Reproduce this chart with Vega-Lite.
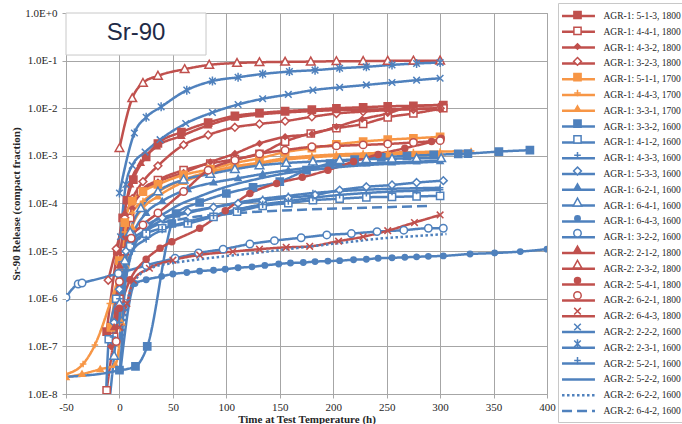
{
"$schema": "https://vega.github.io/schema/vega-lite/v6.json",
"width": 481, "height": 381,
"autosize": {"type": "none"},
"padding": {"left": 66, "top": 13, "right": 135, "bottom": 30},
"background": "white",
"config": {
  "view": {"stroke": "#a6a6a6", "strokeWidth": 1},
  "axis": {"gridColor": "#a6a6a6", "gridWidth": 1, "domainColor": "#a6a6a6", "tickColor": "#a6a6a6", "tickSize": 4, "labelFont": "Liberation Serif", "labelFontSize": 11, "labelColor": "#262626", "titleFont": "Liberation Serif", "titleFontSize": 11, "titleFontWeight": "bold", "titleColor": "#262626", "labelOverlap": false}
},
"datasets": {
"release": [
{"series":"AGR-1: 5-1-3, 1800","h":-12,"v":2.04e-7},{"series":"AGR-1: 5-1-3, 1800","h":-2,"v":1.0e-5},{"series":"AGR-1: 5-1-3, 1800","h":3,"v":5.01e-5},{"series":"AGR-1: 5-1-3, 1800","h":7,"v":1.17e-4},{"series":"AGR-1: 5-1-3, 1800","h":13,"v":3.16e-4},{"series":"AGR-1: 5-1-3, 1800","h":25,"v":9.55e-4},{"series":"AGR-1: 5-1-3, 1800","h":36,"v":1.82e-3},{"series":"AGR-1: 5-1-3, 1800","h":58,"v":3.16e-3},{"series":"AGR-1: 5-1-3, 1800","h":83,"v":5.01e-3},{"series":"AGR-1: 5-1-3, 1800","h":108,"v":6.92e-3},{"series":"AGR-1: 5-1-3, 1800","h":131,"v":7.94e-3},{"series":"AGR-1: 5-1-3, 1800","h":155,"v":8.71e-3},{"series":"AGR-1: 5-1-3, 1800","h":180,"v":9.33e-3},{"series":"AGR-1: 5-1-3, 1800","h":203,"v":1.0e-2},{"series":"AGR-1: 5-1-3, 1800","h":228,"v":1.05e-2},{"series":"AGR-1: 5-1-3, 1800","h":251,"v":1.10e-2},{"series":"AGR-1: 5-1-3, 1800","h":275,"v":1.12e-2},{"series":"AGR-1: 5-1-3, 1800","h":303,"v":1.17e-2},
{"series":"AGR-1: 4-4-1, 1800","h":-12,"v":1.2e-8},{"series":"AGR-1: 4-4-1, 1800","h":-5,"v":1.58e-7},{"series":"AGR-1: 4-4-1, 1800","h":0,"v":1.0e-6},{"series":"AGR-1: 4-4-1, 1800","h":5,"v":1.0e-5},{"series":"AGR-1: 4-4-1, 1800","h":10,"v":5.01e-5},{"series":"AGR-1: 4-4-1, 1800","h":20,"v":1.78e-4},{"series":"AGR-1: 4-4-1, 1800","h":36,"v":3.09e-4},{"series":"AGR-1: 4-4-1, 1800","h":60,"v":5.01e-4},{"series":"AGR-1: 4-4-1, 1800","h":85,"v":6.92e-4},{"series":"AGR-1: 4-4-1, 1800","h":108,"v":8.51e-4},{"series":"AGR-1: 4-4-1, 1800","h":131,"v":1.10e-3},{"series":"AGR-1: 4-4-1, 1800","h":155,"v":2.0e-3},{"series":"AGR-1: 4-4-1, 1800","h":179,"v":2.95e-3},{"series":"AGR-1: 4-4-1, 1800","h":203,"v":3.80e-3},{"series":"AGR-1: 4-4-1, 1800","h":228,"v":4.68e-3},{"series":"AGR-1: 4-4-1, 1800","h":251,"v":6.46e-3},{"series":"AGR-1: 4-4-1, 1800","h":275,"v":7.76e-3},{"series":"AGR-1: 4-4-1, 1800","h":303,"v":1.0e-2},
{"series":"AGR-1: 4-3-2, 1800","h":-8,"v":1.0e-7},{"series":"AGR-1: 4-3-2, 1800","h":0,"v":2.51e-6},{"series":"AGR-1: 4-3-2, 1800","h":5,"v":2.0e-5},{"series":"AGR-1: 4-3-2, 1800","h":12,"v":7.94e-5},{"series":"AGR-1: 4-3-2, 1800","h":22,"v":1.78e-4},{"series":"AGR-1: 4-3-2, 1800","h":36,"v":2.82e-4},{"series":"AGR-1: 4-3-2, 1800","h":60,"v":4.47e-4},{"series":"AGR-1: 4-3-2, 1800","h":85,"v":7.41e-4},{"series":"AGR-1: 4-3-2, 1800","h":108,"v":1.12e-3},{"series":"AGR-1: 4-3-2, 1800","h":131,"v":1.82e-3},{"series":"AGR-1: 4-3-2, 1800","h":155,"v":2.51e-3},{"series":"AGR-1: 4-3-2, 1800","h":180,"v":2.88e-3},{"series":"AGR-1: 4-3-2, 1800","h":203,"v":4.07e-3},{"series":"AGR-1: 4-3-2, 1800","h":227,"v":5.89e-3},{"series":"AGR-1: 4-3-2, 1800","h":251,"v":7.76e-3},{"series":"AGR-1: 4-3-2, 1800","h":275,"v":1.12e-2},{"series":"AGR-1: 4-3-2, 1800","h":300,"v":1.17e-2},
{"series":"AGR-1: 3-2-3, 1800","h":-10.5,"v":2.45e-6},{"series":"AGR-1: 3-2-3, 1800","h":-3,"v":1.12e-5},{"series":"AGR-1: 3-2-3, 1800","h":5,"v":5.01e-5},{"series":"AGR-1: 3-2-3, 1800","h":12,"v":1.26e-4},{"series":"AGR-1: 3-2-3, 1800","h":22,"v":2.88e-4},{"series":"AGR-1: 3-2-3, 1800","h":36,"v":6.17e-4},{"series":"AGR-1: 3-2-3, 1800","h":60,"v":1.70e-3},{"series":"AGR-1: 3-2-3, 1800","h":83,"v":2.75e-3},{"series":"AGR-1: 3-2-3, 1800","h":108,"v":3.98e-3},{"series":"AGR-1: 3-2-3, 1800","h":131,"v":4.68e-3},{"series":"AGR-1: 3-2-3, 1800","h":155,"v":5.37e-3},{"series":"AGR-1: 3-2-3, 1800","h":180,"v":6.61e-3},{"series":"AGR-1: 3-2-3, 1800","h":203,"v":7.76e-3},{"series":"AGR-1: 3-2-3, 1800","h":228,"v":8.51e-3},{"series":"AGR-1: 3-2-3, 1800","h":251,"v":9.12e-3},{"series":"AGR-1: 3-2-3, 1800","h":275,"v":9.55e-3},{"series":"AGR-1: 3-2-3, 1800","h":300,"v":1.0e-2},
{"series":"AGR-1: 5-1-1, 1700","h":-8,"v":2.51e-7},{"series":"AGR-1: 5-1-1, 1700","h":0,"v":6.31e-6},{"series":"AGR-1: 5-1-1, 1700","h":5,"v":3.98e-5},{"series":"AGR-1: 5-1-1, 1700","h":12,"v":1.12e-4},{"series":"AGR-1: 5-1-1, 1700","h":22,"v":1.78e-4},{"series":"AGR-1: 5-1-1, 1700","h":36,"v":2.51e-4},{"series":"AGR-1: 5-1-1, 1700","h":60,"v":3.98e-4},{"series":"AGR-1: 5-1-1, 1700","h":85,"v":5.25e-4},{"series":"AGR-1: 5-1-1, 1700","h":108,"v":7.08e-4},{"series":"AGR-1: 5-1-1, 1700","h":131,"v":8.91e-4},{"series":"AGR-1: 5-1-1, 1700","h":155,"v":1.20e-3},{"series":"AGR-1: 5-1-1, 1700","h":180,"v":1.45e-3},{"series":"AGR-1: 5-1-1, 1700","h":203,"v":1.74e-3},{"series":"AGR-1: 5-1-1, 1700","h":228,"v":2.0e-3},{"series":"AGR-1: 5-1-1, 1700","h":251,"v":2.19e-3},{"series":"AGR-1: 5-1-1, 1700","h":275,"v":2.34e-3},{"series":"AGR-1: 5-1-1, 1700","h":300,"v":2.51e-3},
{"series":"AGR-1: 4-4-3, 1700","h":-50,"v":2.63e-8},{"series":"AGR-1: 4-4-3, 1700","h":-34,"v":4.27e-8},{"series":"AGR-1: 4-4-3, 1700","h":-23,"v":1.07e-7},{"series":"AGR-1: 4-4-3, 1700","h":-9,"v":7.94e-7},{"series":"AGR-1: 4-4-3, 1700","h":0,"v":3.98e-6},{"series":"AGR-1: 4-4-3, 1700","h":5,"v":2.51e-5},{"series":"AGR-1: 4-4-3, 1700","h":12,"v":6.31e-5},{"series":"AGR-1: 4-4-3, 1700","h":22,"v":1.12e-4},{"series":"AGR-1: 4-4-3, 1700","h":36,"v":1.78e-4},{"series":"AGR-1: 4-4-3, 1700","h":60,"v":3.16e-4},{"series":"AGR-1: 4-4-3, 1700","h":85,"v":4.68e-4},{"series":"AGR-1: 4-4-3, 1700","h":108,"v":6.03e-4},{"series":"AGR-1: 4-4-3, 1700","h":131,"v":7.24e-4},{"series":"AGR-1: 4-4-3, 1700","h":155,"v":8.91e-4},{"series":"AGR-1: 4-4-3, 1700","h":180,"v":1.0e-3},{"series":"AGR-1: 4-4-3, 1700","h":203,"v":1.07e-3},{"series":"AGR-1: 4-4-3, 1700","h":228,"v":1.12e-3},{"series":"AGR-1: 4-4-3, 1700","h":251,"v":1.17e-3},{"series":"AGR-1: 4-4-3, 1700","h":275,"v":1.20e-3},{"series":"AGR-1: 4-4-3, 1700","h":300,"v":1.23e-3},{"series":"AGR-1: 4-4-3, 1700","h":329,"v":1.26e-3},
{"series":"AGR-1: 3-3-1, 1700","h":-50,"v":2.24e-8},{"series":"AGR-1: 3-3-1, 1700","h":-35,"v":2.63e-8},{"series":"AGR-1: 3-3-1, 1700","h":-18,"v":3.31e-8},{"series":"AGR-1: 3-3-1, 1700","h":-4,"v":4.07e-8},{"series":"AGR-1: 3-3-1, 1700","h":2,"v":3.16e-7},{"series":"AGR-1: 3-3-1, 1700","h":6,"v":5.01e-6},{"series":"AGR-1: 3-3-1, 1700","h":12,"v":3.16e-5},{"series":"AGR-1: 3-3-1, 1700","h":22,"v":7.94e-5},{"series":"AGR-1: 3-3-1, 1700","h":36,"v":1.41e-4},{"series":"AGR-1: 3-3-1, 1700","h":60,"v":2.82e-4},{"series":"AGR-1: 3-3-1, 1700","h":85,"v":4.47e-4},{"series":"AGR-1: 3-3-1, 1700","h":108,"v":5.75e-4},{"series":"AGR-1: 3-3-1, 1700","h":131,"v":6.92e-4},{"series":"AGR-1: 3-3-1, 1700","h":155,"v":8.32e-4},{"series":"AGR-1: 3-3-1, 1700","h":180,"v":9.33e-4},{"series":"AGR-1: 3-3-1, 1700","h":203,"v":1.0e-3},{"series":"AGR-1: 3-3-1, 1700","h":228,"v":1.05e-3},{"series":"AGR-1: 3-3-1, 1700","h":251,"v":1.07e-3},{"series":"AGR-1: 3-3-1, 1700","h":275,"v":1.10e-3},{"series":"AGR-1: 3-3-1, 1700","h":300,"v":1.12e-3},
{"series":"AGR-1: 3-3-2, 1600","h":0,"v":3.16e-8},{"series":"AGR-1: 3-3-2, 1600","h":15,"v":3.80e-8},{"series":"AGR-1: 3-3-2, 1600","h":26,"v":1.0e-7},{"series":"AGR-1: 3-3-2, 1600","h":49,"v":3.80e-5},{"series":"AGR-1: 3-3-2, 1600","h":53,"v":6.17e-5},{"series":"AGR-1: 3-3-2, 1600","h":75,"v":1.05e-4},{"series":"AGR-1: 3-3-2, 1600","h":100,"v":1.62e-4},{"series":"AGR-1: 3-3-2, 1600","h":125,"v":2.19e-4},{"series":"AGR-1: 3-3-2, 1600","h":150,"v":2.88e-4},{"series":"AGR-1: 3-3-2, 1600","h":175,"v":5.01e-4},{"series":"AGR-1: 3-3-2, 1600","h":197,"v":6.92e-4},{"series":"AGR-1: 3-3-2, 1600","h":220,"v":8.32e-4},{"series":"AGR-1: 3-3-2, 1600","h":245,"v":9.33e-4},{"series":"AGR-1: 3-3-2, 1600","h":269,"v":1.0e-3},{"series":"AGR-1: 3-3-2, 1600","h":294,"v":1.05e-3},{"series":"AGR-1: 3-3-2, 1600","h":317,"v":1.10e-3},{"series":"AGR-1: 3-3-2, 1600","h":326,"v":1.12e-3},{"series":"AGR-1: 3-3-2, 1600","h":355,"v":1.23e-3},{"series":"AGR-1: 3-3-2, 1600","h":384,"v":1.32e-3},
{"series":"AGR-1: 4-1-2, 1600","h":-13,"v":5.01e-9},{"series":"AGR-1: 4-1-2, 1600","h":-10,"v":1.41e-7},{"series":"AGR-1: 4-1-2, 1600","h":-3,"v":1.0e-6},{"series":"AGR-1: 4-1-2, 1600","h":3,"v":5.01e-6},{"series":"AGR-1: 4-1-2, 1600","h":10,"v":1.26e-5},{"series":"AGR-1: 4-1-2, 1600","h":25,"v":2.34e-5},{"series":"AGR-1: 4-1-2, 1600","h":40,"v":3.02e-5},{"series":"AGR-1: 4-1-2, 1600","h":64,"v":3.80e-5},{"series":"AGR-1: 4-1-2, 1600","h":88,"v":5.25e-5},{"series":"AGR-1: 4-1-2, 1600","h":110,"v":6.76e-5},{"series":"AGR-1: 4-1-2, 1600","h":134,"v":8.91e-5},{"series":"AGR-1: 4-1-2, 1600","h":158,"v":1.02e-4},{"series":"AGR-1: 4-1-2, 1600","h":181,"v":1.17e-4},{"series":"AGR-1: 4-1-2, 1600","h":206,"v":1.26e-4},{"series":"AGR-1: 4-1-2, 1600","h":231,"v":1.35e-4},{"series":"AGR-1: 4-1-2, 1600","h":255,"v":1.38e-4},{"series":"AGR-1: 4-1-2, 1600","h":278,"v":1.41e-4},{"series":"AGR-1: 4-1-2, 1600","h":300,"v":1.45e-4},
{"series":"AGR-1: 4-3-3, 1600","h":-6,"v":1.58e-7},{"series":"AGR-1: 4-3-3, 1600","h":0,"v":1.0e-6},{"series":"AGR-1: 4-3-3, 1600","h":5,"v":6.31e-6},{"series":"AGR-1: 4-3-3, 1600","h":12,"v":1.58e-5},{"series":"AGR-1: 4-3-3, 1600","h":25,"v":2.82e-5},{"series":"AGR-1: 4-3-3, 1600","h":40,"v":4.47e-5},{"series":"AGR-1: 4-3-3, 1600","h":64,"v":6.31e-5},{"series":"AGR-1: 4-3-3, 1600","h":88,"v":8.32e-5},{"series":"AGR-1: 4-3-3, 1600","h":111,"v":1.05e-4},{"series":"AGR-1: 4-3-3, 1600","h":134,"v":1.26e-4},{"series":"AGR-1: 4-3-3, 1600","h":158,"v":1.45e-4},{"series":"AGR-1: 4-3-3, 1600","h":181,"v":1.66e-4},{"series":"AGR-1: 4-3-3, 1600","h":206,"v":1.82e-4},{"series":"AGR-1: 4-3-3, 1600","h":231,"v":1.95e-4},{"series":"AGR-1: 4-3-3, 1600","h":255,"v":2.04e-4},{"series":"AGR-1: 4-3-3, 1600","h":278,"v":2.09e-4},{"series":"AGR-1: 4-3-3, 1600","h":300,"v":2.14e-4},
{"series":"AGR-1: 5-3-3, 1600","h":-5,"v":3.16e-7},{"series":"AGR-1: 5-3-3, 1600","h":0,"v":1.58e-6},{"series":"AGR-1: 5-3-3, 1600","h":6,"v":1.0e-5},{"series":"AGR-1: 5-3-3, 1600","h":12,"v":2.24e-5},{"series":"AGR-1: 5-3-3, 1600","h":25,"v":3.55e-5},{"series":"AGR-1: 5-3-3, 1600","h":40,"v":5.01e-5},{"series":"AGR-1: 5-3-3, 1600","h":64,"v":6.76e-5},{"series":"AGR-1: 5-3-3, 1600","h":88,"v":8.32e-5},{"series":"AGR-1: 5-3-3, 1600","h":111,"v":1.0e-4},{"series":"AGR-1: 5-3-3, 1600","h":134,"v":1.15e-4},{"series":"AGR-1: 5-3-3, 1600","h":158,"v":1.32e-4},{"series":"AGR-1: 5-3-3, 1600","h":183,"v":1.51e-4},{"series":"AGR-1: 5-3-3, 1600","h":206,"v":1.91e-4},{"series":"AGR-1: 5-3-3, 1600","h":231,"v":2.24e-4},{"series":"AGR-1: 5-3-3, 1600","h":255,"v":2.45e-4},{"series":"AGR-1: 5-3-3, 1600","h":278,"v":2.75e-4},{"series":"AGR-1: 5-3-3, 1600","h":303,"v":3.02e-4},
{"series":"AGR-1: 6-2-1, 1600","h":-4,"v":1.26e-7},{"series":"AGR-1: 6-2-1, 1600","h":0,"v":6.31e-7},{"series":"AGR-1: 6-2-1, 1600","h":5,"v":5.01e-6},{"series":"AGR-1: 6-2-1, 1600","h":12,"v":2.0e-5},{"series":"AGR-1: 6-2-1, 1600","h":25,"v":6.31e-5},{"series":"AGR-1: 6-2-1, 1600","h":40,"v":1.12e-4},{"series":"AGR-1: 6-2-1, 1600","h":64,"v":2.0e-4},{"series":"AGR-1: 6-2-1, 1600","h":88,"v":2.75e-4},{"series":"AGR-1: 6-2-1, 1600","h":111,"v":3.39e-4},{"series":"AGR-1: 6-2-1, 1600","h":134,"v":4.17e-4},{"series":"AGR-1: 6-2-1, 1600","h":158,"v":5.01e-4},{"series":"AGR-1: 6-2-1, 1600","h":181,"v":5.75e-4},{"series":"AGR-1: 6-2-1, 1600","h":206,"v":6.46e-4},{"series":"AGR-1: 6-2-1, 1600","h":231,"v":6.92e-4},{"series":"AGR-1: 6-2-1, 1600","h":255,"v":7.24e-4},{"series":"AGR-1: 6-2-1, 1600","h":278,"v":7.59e-4},{"series":"AGR-1: 6-2-1, 1600","h":300,"v":7.76e-4},
{"series":"AGR-1: 6-4-1, 1600","h":-10,"v":5.01e-9},{"series":"AGR-1: 6-4-1, 1600","h":-5,"v":6.31e-8},{"series":"AGR-1: 6-4-1, 1600","h":0,"v":7.94e-7},{"series":"AGR-1: 6-4-1, 1600","h":5,"v":6.31e-6},{"series":"AGR-1: 6-4-1, 1600","h":10,"v":2.51e-5},{"series":"AGR-1: 6-4-1, 1600","h":20,"v":7.94e-5},{"series":"AGR-1: 6-4-1, 1600","h":36,"v":1.78e-4},{"series":"AGR-1: 6-4-1, 1600","h":60,"v":3.16e-4},{"series":"AGR-1: 6-4-1, 1600","h":85,"v":4.17e-4},{"series":"AGR-1: 6-4-1, 1600","h":108,"v":5.25e-4},{"series":"AGR-1: 6-4-1, 1600","h":131,"v":6.31e-4},{"series":"AGR-1: 6-4-1, 1600","h":156,"v":7.08e-4},{"series":"AGR-1: 6-4-1, 1600","h":181,"v":7.59e-4},{"series":"AGR-1: 6-4-1, 1600","h":206,"v":8.13e-4},{"series":"AGR-1: 6-4-1, 1600","h":231,"v":8.51e-4},{"series":"AGR-1: 6-4-1, 1600","h":255,"v":8.71e-4},{"series":"AGR-1: 6-4-1, 1600","h":278,"v":8.91e-4},{"series":"AGR-1: 6-4-1, 1600","h":301,"v":8.91e-4},
{"series":"AGR-1: 6-4-3, 1600","h":1,"v":3.16e-8},{"series":"AGR-1: 6-4-3, 1600","h":14.5,"v":2.09e-6},{"series":"AGR-1: 6-4-3, 1600","h":25,"v":2.51e-6},{"series":"AGR-1: 6-4-3, 1600","h":39.5,"v":2.95e-6},{"series":"AGR-1: 6-4-3, 1600","h":50,"v":3.31e-6},{"series":"AGR-1: 6-4-3, 1600","h":63,"v":3.55e-6},{"series":"AGR-1: 6-4-3, 1600","h":75,"v":3.80e-6},{"series":"AGR-1: 6-4-3, 1600","h":88,"v":3.98e-6},{"series":"AGR-1: 6-4-3, 1600","h":99,"v":4.17e-6},{"series":"AGR-1: 6-4-3, 1600","h":111,"v":4.47e-6},{"series":"AGR-1: 6-4-3, 1600","h":124,"v":4.68e-6},{"series":"AGR-1: 6-4-3, 1600","h":136,"v":5.01e-6},{"series":"AGR-1: 6-4-3, 1600","h":149,"v":5.37e-6},{"series":"AGR-1: 6-4-3, 1600","h":160,"v":5.62e-6},{"series":"AGR-1: 6-4-3, 1600","h":172,"v":5.75e-6},{"series":"AGR-1: 6-4-3, 1600","h":183,"v":6.03e-6},{"series":"AGR-1: 6-4-3, 1600","h":195,"v":6.17e-6},{"series":"AGR-1: 6-4-3, 1600","h":206,"v":6.31e-6},{"series":"AGR-1: 6-4-3, 1600","h":219,"v":6.61e-6},{"series":"AGR-1: 6-4-3, 1600","h":231,"v":6.76e-6},{"series":"AGR-1: 6-4-3, 1600","h":242,"v":7.08e-6},{"series":"AGR-1: 6-4-3, 1600","h":255,"v":7.24e-6},{"series":"AGR-1: 6-4-3, 1600","h":267,"v":7.41e-6},{"series":"AGR-1: 6-4-3, 1600","h":278,"v":7.59e-6},{"series":"AGR-1: 6-4-3, 1600","h":289,"v":7.76e-6},{"series":"AGR-1: 6-4-3, 1600","h":303,"v":7.94e-6},{"series":"AGR-1: 6-4-3, 1600","h":328,"v":8.71e-6},{"series":"AGR-1: 6-4-3, 1600","h":351,"v":9.12e-6},{"series":"AGR-1: 6-4-3, 1600","h":375,"v":9.77e-6},{"series":"AGR-1: 6-4-3, 1600","h":400,"v":1.10e-5},
{"series":"AGR-1: 3-2-2, 1600","h":-50,"v":1.07e-6},{"series":"AGR-1: 3-2-2, 1600","h":-38.6,"v":2.04e-6},{"series":"AGR-1: 3-2-2, 1600","h":-35,"v":2.14e-6},{"series":"AGR-1: 3-2-2, 1600","h":-1,"v":3.39e-6},{"series":"AGR-1: 3-2-2, 1600","h":25,"v":5.01e-6},{"series":"AGR-1: 3-2-2, 1600","h":52,"v":7.08e-6},{"series":"AGR-1: 3-2-2, 1600","h":74,"v":9.12e-6},{"series":"AGR-1: 3-2-2, 1600","h":97,"v":1.10e-5},{"series":"AGR-1: 3-2-2, 1600","h":122,"v":1.41e-5},{"series":"AGR-1: 3-2-2, 1600","h":145,"v":1.66e-5},{"series":"AGR-1: 3-2-2, 1600","h":170,"v":1.91e-5},{"series":"AGR-1: 3-2-2, 1600","h":194,"v":2.19e-5},{"series":"AGR-1: 3-2-2, 1600","h":217,"v":2.34e-5},{"series":"AGR-1: 3-2-2, 1600","h":241,"v":2.57e-5},{"series":"AGR-1: 3-2-2, 1600","h":266,"v":2.75e-5},{"series":"AGR-1: 3-2-2, 1600","h":289,"v":3.02e-5},{"series":"AGR-1: 3-2-2, 1600","h":303,"v":3.02e-5},
{"series":"AGR-2: 2-1-2, 1800","h":-5,"v":2.51e-7},{"series":"AGR-2: 2-1-2, 1800","h":0,"v":5.01e-6},{"series":"AGR-2: 2-1-2, 1800","h":5,"v":6.31e-5},{"series":"AGR-2: 2-1-2, 1800","h":10,"v":2.51e-4},{"series":"AGR-2: 2-1-2, 1800","h":20,"v":7.08e-4},{"series":"AGR-2: 2-1-2, 1800","h":35,"v":1.58e-3},{"series":"AGR-2: 2-1-2, 1800","h":58,"v":2.63e-3},{"series":"AGR-2: 2-1-2, 1800","h":83,"v":4.37e-3},{"series":"AGR-2: 2-1-2, 1800","h":108,"v":6.31e-3},{"series":"AGR-2: 2-1-2, 1800","h":131,"v":7.41e-3},{"series":"AGR-2: 2-1-2, 1800","h":155,"v":8.13e-3},{"series":"AGR-2: 2-1-2, 1800","h":180,"v":8.71e-3},{"series":"AGR-2: 2-1-2, 1800","h":203,"v":9.12e-3},{"series":"AGR-2: 2-1-2, 1800","h":228,"v":9.33e-3},{"series":"AGR-2: 2-1-2, 1800","h":251,"v":9.55e-3},{"series":"AGR-2: 2-1-2, 1800","h":275,"v":9.77e-3},{"series":"AGR-2: 2-1-2, 1800","h":300,"v":1.0e-2},
{"series":"AGR-2: 2-3-2, 1800","h":0,"v":1.45e-3},{"series":"AGR-2: 2-3-2, 1800","h":12,"v":1.62e-2},{"series":"AGR-2: 2-3-2, 1800","h":22,"v":3.39e-2},{"series":"AGR-2: 2-3-2, 1800","h":36,"v":4.79e-2},{"series":"AGR-2: 2-3-2, 1800","h":61,"v":6.61e-2},{"series":"AGR-2: 2-3-2, 1800","h":84,"v":8.13e-2},{"series":"AGR-2: 2-3-2, 1800","h":110,"v":8.91e-2},{"series":"AGR-2: 2-3-2, 1800","h":131,"v":9.23e-2},{"series":"AGR-2: 2-3-2, 1800","h":155,"v":9.44e-2},{"series":"AGR-2: 2-3-2, 1800","h":179,"v":9.55e-2},{"series":"AGR-2: 2-3-2, 1800","h":203,"v":9.70e-2},{"series":"AGR-2: 2-3-2, 1800","h":228,"v":9.77e-2},{"series":"AGR-2: 2-3-2, 1800","h":251,"v":9.89e-2},{"series":"AGR-2: 2-3-2, 1800","h":275,"v":9.95e-2},{"series":"AGR-2: 2-3-2, 1800","h":300,"v":0.1},
{"series":"AGR-2: 5-4-1, 1800","h":0,"v":6.31e-7},{"series":"AGR-2: 5-4-1, 1800","h":10,"v":2.51e-6},{"series":"AGR-2: 5-4-1, 1800","h":25,"v":6.76e-6},{"series":"AGR-2: 5-4-1, 1800","h":38,"v":1.15e-5},{"series":"AGR-2: 5-4-1, 1800","h":49,"v":1.58e-5},{"series":"AGR-2: 5-4-1, 1800","h":75,"v":3.02e-5},{"series":"AGR-2: 5-4-1, 1800","h":99,"v":7.08e-5},{"series":"AGR-2: 5-4-1, 1800","h":122,"v":1.62e-4},{"series":"AGR-2: 5-4-1, 1800","h":147,"v":2.63e-4},{"series":"AGR-2: 5-4-1, 1800","h":171,"v":3.55e-4},{"series":"AGR-2: 5-4-1, 1800","h":195,"v":5.01e-4},{"series":"AGR-2: 5-4-1, 1800","h":219,"v":7.59e-4},{"series":"AGR-2: 5-4-1, 1800","h":242,"v":1.07e-3},{"series":"AGR-2: 5-4-1, 1800","h":267,"v":1.45e-3},{"series":"AGR-2: 5-4-1, 1800","h":292,"v":2.0e-3},{"series":"AGR-2: 5-4-1, 1800","h":301,"v":2.34e-3},
{"series":"AGR-2: 6-2-1, 1800","h":-3,"v":1.26e-7},{"series":"AGR-2: 6-2-1, 1800","h":0,"v":2.29e-6},{"series":"AGR-2: 6-2-1, 1800","h":11,"v":1.86e-5},{"series":"AGR-2: 6-2-1, 1800","h":22,"v":3.55e-5},{"series":"AGR-2: 6-2-1, 1800","h":36,"v":6.31e-5},{"series":"AGR-2: 6-2-1, 1800","h":60,"v":1.78e-4},{"series":"AGR-2: 6-2-1, 1800","h":83,"v":5.01e-4},{"series":"AGR-2: 6-2-1, 1800","h":108,"v":8.13e-4},{"series":"AGR-2: 6-2-1, 1800","h":131,"v":1.10e-3},{"series":"AGR-2: 6-2-1, 1800","h":155,"v":1.32e-3},{"series":"AGR-2: 6-2-1, 1800","h":180,"v":1.55e-3},{"series":"AGR-2: 6-2-1, 1800","h":203,"v":1.62e-3},{"series":"AGR-2: 6-2-1, 1800","h":228,"v":1.70e-3},{"series":"AGR-2: 6-2-1, 1800","h":251,"v":1.78e-3},{"series":"AGR-2: 6-2-1, 1800","h":275,"v":1.91e-3},{"series":"AGR-2: 6-2-1, 1800","h":300,"v":2.09e-3},
{"series":"AGR-2: 6-4-3, 1800","h":0,"v":2.51e-7},{"series":"AGR-2: 6-4-3, 1800","h":7,"v":7.94e-7},{"series":"AGR-2: 6-4-3, 1800","h":13,"v":2.45e-6},{"series":"AGR-2: 6-4-3, 1800","h":28,"v":4.37e-6},{"series":"AGR-2: 6-4-3, 1800","h":50,"v":6.46e-6},{"series":"AGR-2: 6-4-3, 1800","h":75,"v":8.32e-6},{"series":"AGR-2: 6-4-3, 1800","h":106,"v":9.77e-6},{"series":"AGR-2: 6-4-3, 1800","h":131,"v":1.10e-5},{"series":"AGR-2: 6-4-3, 1800","h":156,"v":1.20e-5},{"series":"AGR-2: 6-4-3, 1800","h":178,"v":1.26e-5},{"series":"AGR-2: 6-4-3, 1800","h":205,"v":1.62e-5},{"series":"AGR-2: 6-4-3, 1800","h":228,"v":2.0e-5},{"series":"AGR-2: 6-4-3, 1800","h":251,"v":2.69e-5},{"series":"AGR-2: 6-4-3, 1800","h":276,"v":3.98e-5},{"series":"AGR-2: 6-4-3, 1800","h":300,"v":5.75e-5},
{"series":"AGR-2: 2-2-2, 1600","h":1,"v":2.0e-5},{"series":"AGR-2: 2-2-2, 1600","h":6,"v":2.51e-4},{"series":"AGR-2: 2-2-2, 1600","h":12,"v":6.31e-4},{"series":"AGR-2: 2-2-2, 1600","h":24,"v":1.20e-3},{"series":"AGR-2: 2-2-2, 1600","h":38,"v":2.19e-3},{"series":"AGR-2: 2-2-2, 1600","h":62,"v":4.79e-3},{"series":"AGR-2: 2-2-2, 1600","h":87,"v":8.13e-3},{"series":"AGR-2: 2-2-2, 1600","h":111,"v":1.20e-2},{"series":"AGR-2: 2-2-2, 1600","h":134,"v":1.58e-2},{"series":"AGR-2: 2-2-2, 1600","h":158,"v":1.95e-2},{"series":"AGR-2: 2-2-2, 1600","h":181,"v":2.40e-2},{"series":"AGR-2: 2-2-2, 1600","h":206,"v":2.75e-2},{"series":"AGR-2: 2-2-2, 1600","h":231,"v":3.09e-2},{"series":"AGR-2: 2-2-2, 1600","h":255,"v":3.47e-2},{"series":"AGR-2: 2-2-2, 1600","h":278,"v":3.89e-2},{"series":"AGR-2: 2-2-2, 1600","h":300,"v":4.27e-2},
{"series":"AGR-2: 2-3-1, 1600","h":0,"v":1.66e-4},{"series":"AGR-2: 2-3-1, 1600","h":14,"v":3.02e-3},{"series":"AGR-2: 2-3-1, 1600","h":25,"v":6.46e-3},{"series":"AGR-2: 2-3-1, 1600","h":39,"v":1.07e-2},{"series":"AGR-2: 2-3-1, 1600","h":63,"v":2.40e-2},{"series":"AGR-2: 2-3-1, 1600","h":87,"v":3.72e-2},{"series":"AGR-2: 2-3-1, 1600","h":111,"v":4.47e-2},{"series":"AGR-2: 2-3-1, 1600","h":134,"v":5.25e-2},{"series":"AGR-2: 2-3-1, 1600","h":159,"v":5.89e-2},{"series":"AGR-2: 2-3-1, 1600","h":183,"v":6.31e-2},{"series":"AGR-2: 2-3-1, 1600","h":206,"v":6.92e-2},{"series":"AGR-2: 2-3-1, 1600","h":231,"v":7.41e-2},{"series":"AGR-2: 2-3-1, 1600","h":255,"v":8.13e-2},{"series":"AGR-2: 2-3-1, 1600","h":278,"v":8.71e-2},{"series":"AGR-2: 2-3-1, 1600","h":300,"v":9.12e-2},
{"series":"AGR-2: 5-2-1, 1600","h":0,"v":3.16e-7},{"series":"AGR-2: 5-2-1, 1600","h":6,"v":3.98e-6},{"series":"AGR-2: 5-2-1, 1600","h":12,"v":1.0e-5},{"series":"AGR-2: 5-2-1, 1600","h":25,"v":1.78e-5},{"series":"AGR-2: 5-2-1, 1600","h":40,"v":2.82e-5},{"series":"AGR-2: 5-2-1, 1600","h":64,"v":4.17e-5},{"series":"AGR-2: 5-2-1, 1600","h":88,"v":5.62e-5},{"series":"AGR-2: 5-2-1, 1600","h":111,"v":7.59e-5},{"series":"AGR-2: 5-2-1, 1600","h":134,"v":9.55e-5},{"series":"AGR-2: 5-2-1, 1600","h":158,"v":1.12e-4},{"series":"AGR-2: 5-2-1, 1600","h":181,"v":1.32e-4},{"series":"AGR-2: 5-2-1, 1600","h":206,"v":1.51e-4},{"series":"AGR-2: 5-2-1, 1600","h":231,"v":1.66e-4},{"series":"AGR-2: 5-2-1, 1600","h":255,"v":1.78e-4},{"series":"AGR-2: 5-2-1, 1600","h":278,"v":1.86e-4},{"series":"AGR-2: 5-2-1, 1600","h":300,"v":1.95e-4},
{"series":"AGR-2: 5-2-2, 1600","h":-50,"v":2.29e-8},{"series":"AGR-2: 5-2-2, 1600","h":0,"v":3.16e-8},{"series":"AGR-2: 5-2-2, 1600","h":5,"v":1.58e-6},{"series":"AGR-2: 5-2-2, 1600","h":12,"v":1.0e-5},{"series":"AGR-2: 5-2-2, 1600","h":25,"v":2.82e-5},{"series":"AGR-2: 5-2-2, 1600","h":50,"v":7.94e-5},{"series":"AGR-2: 5-2-2, 1600","h":75,"v":1.41e-4},{"series":"AGR-2: 5-2-2, 1600","h":100,"v":2.24e-4},{"series":"AGR-2: 5-2-2, 1600","h":130,"v":3.31e-4},{"series":"AGR-2: 5-2-2, 1600","h":160,"v":4.47e-4},{"series":"AGR-2: 5-2-2, 1600","h":190,"v":5.37e-4},{"series":"AGR-2: 5-2-2, 1600","h":220,"v":6.17e-4},{"series":"AGR-2: 5-2-2, 1600","h":250,"v":6.76e-4},{"series":"AGR-2: 5-2-2, 1600","h":280,"v":7.24e-4},{"series":"AGR-2: 5-2-2, 1600","h":300,"v":7.59e-4},
{"series":"AGR-2: 6-2-2, 1600","h":3,"v":1.0e-7},{"series":"AGR-2: 6-2-2, 1600","h":8,"v":1.0e-6},{"series":"AGR-2: 6-2-2, 1600","h":15,"v":2.51e-6},{"series":"AGR-2: 6-2-2, 1600","h":30,"v":4.47e-6},{"series":"AGR-2: 6-2-2, 1600","h":50,"v":5.62e-6},{"series":"AGR-2: 6-2-2, 1600","h":69,"v":6.46e-6},{"series":"AGR-2: 6-2-2, 1600","h":94,"v":7.59e-6},{"series":"AGR-2: 6-2-2, 1600","h":119,"v":8.71e-6},{"series":"AGR-2: 6-2-2, 1600","h":150,"v":1.05e-5},{"series":"AGR-2: 6-2-2, 1600","h":180,"v":1.26e-5},{"series":"AGR-2: 6-2-2, 1600","h":210,"v":1.51e-5},{"series":"AGR-2: 6-2-2, 1600","h":247,"v":1.86e-5},{"series":"AGR-2: 6-2-2, 1600","h":280,"v":2.09e-5},{"series":"AGR-2: 6-2-2, 1600","h":306,"v":2.29e-5},
{"series":"AGR-2: 6-4-2, 1600","h":0,"v":1.26e-7},{"series":"AGR-2: 6-4-2, 1600","h":6,"v":2.51e-6},{"series":"AGR-2: 6-4-2, 1600","h":12,"v":1.0e-5},{"series":"AGR-2: 6-4-2, 1600","h":20,"v":2.0e-5},{"series":"AGR-2: 6-4-2, 1600","h":35,"v":3.55e-5},{"series":"AGR-2: 6-4-2, 1600","h":60,"v":4.79e-5},{"series":"AGR-2: 6-4-2, 1600","h":100,"v":6.03e-5},{"series":"AGR-2: 6-4-2, 1600","h":160,"v":7.24e-5},{"series":"AGR-2: 6-4-2, 1600","h":230,"v":8.13e-5},{"series":"AGR-2: 6-4-2, 1600","h":290,"v":8.91e-5}
],
"note": [{"label": "Sr-90"}]
},
"layer": [
{
 "data": {"name": "note"},
 "mark": {"type": "rect", "fill": "white", "stroke": "#c8c8c8", "strokeWidth": 1},
 "encoding": {
  "x": {"datum": -50, "type": "quantitative", "scale": {"domain": [-50, 400], "nice": false, "zero": false},
        "axis": {"title": "Time at Test Temperature (h)", "values": [-50,0,50,100,150,200,250,300,350,400], "labelExpr": "'' + datum.value", "grid": true, "labelFlush": false, "labelPadding": 3, "titlePadding": 1}},
  "x2": {"datum": 81},
  "y": {"datum": 1, "type": "quantitative", "scale": {"type": "log", "domain": [1e-8, 1], "nice": false},
        "axis": {"title": "Sr-90 Release (compact fraction)", "values": [1e-8,1e-7,1e-6,1e-5,1e-4,1e-3,1e-2,1e-1,1], "labelExpr": "'1.0E' + (datum.value >= 0.5 ? '+0' : '-' + round(-log(datum.value)/LN10))", "grid": true, "labelFlush": false, "labelPadding": 5, "titlePadding": 3}},
  "y2": {"datum": 0.131}
 }
},
{
 "data": {"name": "note"},
 "mark": {"type": "text", "font": "Liberation Sans", "fontSize": 24, "color": "#1f2b47", "align": "center", "baseline": "middle"},
 "encoding": {
  "x": {"datum": 15.5, "type": "quantitative",
        "axis": {"title": "Time at Test Temperature (h)", "values": [-50,0,50,100,150,200,250,300,350,400], "labelExpr": "'' + datum.value", "grid": true, "labelFlush": false, "labelPadding": 3, "titlePadding": 1}},
  "y": {"datum": 0.38, "type": "quantitative",
        "axis": {"title": "Sr-90 Release (compact fraction)", "values": [1e-8,1e-7,1e-6,1e-5,1e-4,1e-3,1e-2,1e-1,1], "labelExpr": "'1.0E' + (datum.value >= 0.5 ? '+0' : '-' + round(-log(datum.value)/LN10))", "grid": true, "labelFlush": false, "labelPadding": 5, "titlePadding": 3}},
  "text": {"field": "label"}
 }
},
{
 "data": {"name": "release"},
 "mark": {"type": "line", "strokeWidth": 2.5, "interpolate": "monotone", "clip": true},
 "encoding": {
  "x": {"field": "h", "type": "quantitative", "scale": {"domain": [-50, 400], "nice": false, "zero": false},
        "axis": {"title": "Time at Test Temperature (h)", "values": [-50,0,50,100,150,200,250,300,350,400], "labelExpr": "'' + datum.value", "grid": true, "labelFlush": false, "labelPadding": 3, "titlePadding": 1}},
  "y": {"field": "v", "type": "quantitative", "scale": {"type": "log", "domain": [1e-8, 1], "nice": false},
        "axis": {"title": "Sr-90 Release (compact fraction)", "values": [1e-8,1e-7,1e-6,1e-5,1e-4,1e-3,1e-2,1e-1,1], "labelExpr": "'1.0E' + (datum.value >= 0.5 ? '+0' : '-' + round(-log(datum.value)/LN10))", "grid": true, "labelFlush": false, "labelPadding": 5, "titlePadding": 3}},
  "color": {"field": "series", "type": "nominal",
    "scale": {"domain": ["AGR-1: 5-1-3, 1800","AGR-1: 4-4-1, 1800","AGR-1: 4-3-2, 1800","AGR-1: 3-2-3, 1800","AGR-1: 5-1-1, 1700","AGR-1: 4-4-3, 1700","AGR-1: 3-3-1, 1700","AGR-1: 3-3-2, 1600","AGR-1: 4-1-2, 1600","AGR-1: 4-3-3, 1600","AGR-1: 5-3-3, 1600","AGR-1: 6-2-1, 1600","AGR-1: 6-4-1, 1600","AGR-1: 6-4-3, 1600","AGR-1: 3-2-2, 1600","AGR-2: 2-1-2, 1800","AGR-2: 2-3-2, 1800","AGR-2: 5-4-1, 1800","AGR-2: 6-2-1, 1800","AGR-2: 6-4-3, 1800","AGR-2: 2-2-2, 1600","AGR-2: 2-3-1, 1600","AGR-2: 5-2-1, 1600","AGR-2: 5-2-2, 1600","AGR-2: 6-2-2, 1600","AGR-2: 6-4-2, 1600"],
              "range": ["#c0504d","#c0504d","#c0504d","#c0504d","#f79646","#f79646","#f79646","#4f81bd","#4f81bd","#4f81bd","#4f81bd","#4f81bd","#4f81bd","#4f81bd","#4f81bd","#c0504d","#c0504d","#c0504d","#c0504d","#c0504d","#4f81bd","#4f81bd","#4f81bd","#4f81bd","#4f81bd","#4f81bd"]},
    "legend": {"orient": "none", "legendX": 492, "legendY": -10, "title": null, "direction": "vertical", "symbolType": "M-2.44,0H2.44", "symbolSize": 182.25, "symbolStrokeWidth": 2.5, "symbolLimit": 40, "labelFont": "Liberation Serif", "labelFontSize": 9.5, "labelColor": "#262626", "labelLimit": 300, "padding": 5, "rowPadding": 2.8, "symbolOffset": 7.5, "labelOffset": 17, "strokeColor": "#c8c8c8", "fillColor": "white"}},
  "strokeDash": {"field": "series", "type": "nominal",
    "scale": {"domain": ["AGR-1: 5-1-3, 1800","AGR-1: 4-4-1, 1800","AGR-1: 4-3-2, 1800","AGR-1: 3-2-3, 1800","AGR-1: 5-1-1, 1700","AGR-1: 4-4-3, 1700","AGR-1: 3-3-1, 1700","AGR-1: 3-3-2, 1600","AGR-1: 4-1-2, 1600","AGR-1: 4-3-3, 1600","AGR-1: 5-3-3, 1600","AGR-1: 6-2-1, 1600","AGR-1: 6-4-1, 1600","AGR-1: 6-4-3, 1600","AGR-1: 3-2-2, 1600","AGR-2: 2-1-2, 1800","AGR-2: 2-3-2, 1800","AGR-2: 5-4-1, 1800","AGR-2: 6-2-1, 1800","AGR-2: 6-4-3, 1800","AGR-2: 2-2-2, 1600","AGR-2: 2-3-1, 1600","AGR-2: 5-2-1, 1600","AGR-2: 5-2-2, 1600","AGR-2: 6-2-2, 1600","AGR-2: 6-4-2, 1600"],
              "range": [[1,0],[1,0],[1,0],[1,0],[1,0],[1,0],[1,0],[1,0],[1,0],[1,0],[1,0],[1,0],[1,0],[1,0],[1,0],[1,0],[1,0],[1,0],[1,0],[1,0],[1,0],[1,0],[1,0],[1,0],[2.5,2.5],[10,5]]},
    "legend": {"orient": "none", "legendX": 492, "legendY": -10, "title": null, "direction": "vertical", "symbolType": "M-2.44,0H2.44", "symbolSize": 182.25, "symbolStrokeWidth": 2.5, "symbolLimit": 40, "labelFont": "Liberation Serif", "labelFontSize": 9.5, "labelColor": "#262626", "labelLimit": 300, "padding": 5, "rowPadding": 2.8, "symbolOffset": 7.5, "labelOffset": 17, "strokeColor": "#c8c8c8", "fillColor": "white"}}
 }
},
{
 "data": {"name": "release"},
 "transform": [{"filter": {"not": {"field": "series", "oneOf": ["AGR-2: 5-2-2, 1600","AGR-2: 6-2-2, 1600","AGR-2: 6-4-2, 1600"]}}}],
 "mark": {"type": "point", "size": 144, "strokeWidth": 1.5, "opacity": 1, "clip": true},
 "encoding": {
  "x": {"field": "h", "type": "quantitative"},
  "y": {"field": "v", "type": "quantitative"},
  "shape": {"field": "series", "type": "nominal",
    "scale": {"domain": ["AGR-1: 5-1-3, 1800","AGR-1: 4-4-1, 1800","AGR-1: 4-3-2, 1800","AGR-1: 3-2-3, 1800","AGR-1: 5-1-1, 1700","AGR-1: 4-4-3, 1700","AGR-1: 3-3-1, 1700","AGR-1: 3-3-2, 1600","AGR-1: 4-1-2, 1600","AGR-1: 4-3-3, 1600","AGR-1: 5-3-3, 1600","AGR-1: 6-2-1, 1600","AGR-1: 6-4-1, 1600","AGR-1: 6-4-3, 1600","AGR-1: 3-2-2, 1600","AGR-2: 2-1-2, 1800","AGR-2: 2-3-2, 1800","AGR-2: 5-4-1, 1800","AGR-2: 6-2-1, 1800","AGR-2: 6-4-3, 1800","AGR-2: 2-2-2, 1600","AGR-2: 2-3-1, 1600","AGR-2: 5-2-1, 1600"],
              "range": ["M-0.6,-0.6H0.6V0.6H-0.6Z","M-0.6,-0.6H0.6V0.6H-0.6Z","M0,-0.45L0.45,0L0,0.45L-0.45,0Z","M0,-0.65L0.65,0L0,0.65L-0.65,0Z","M-0.6,-0.6H0.6V0.6H-0.6Z","M-0.55,0H0.55M0,-0.55V0.55","M0,-0.5L0.5,0.38H-0.5Z","M-0.6,-0.6H0.6V0.6H-0.6Z","M-0.6,-0.6H0.6V0.6H-0.6Z","M-0.55,0H0.55M0,-0.55V0.55","M0,-0.65L0.65,0L0,0.65L-0.65,0Z","M0,-0.5L0.5,0.38H-0.5Z","M0,-0.75L0.72,0.55H-0.72Z","M-0.45,0A0.45,0.45 0 1,0 0.45,0A0.45,0.45 0 1,0 -0.45,0Z","M-0.62,0A0.62,0.62 0 1,0 0.62,0A0.62,0.62 0 1,0 -0.62,0Z","M0,-0.5L0.5,0.38H-0.5Z","M0,-0.75L0.72,0.55H-0.72Z","M-0.5,0A0.5,0.5 0 1,0 0.5,0A0.5,0.5 0 1,0 -0.5,0Z","M-0.62,0A0.62,0.62 0 1,0 0.62,0A0.62,0.62 0 1,0 -0.62,0Z","M-0.55,-0.55L0.55,0.55M-0.55,0.55L0.55,-0.55","M-0.55,-0.55L0.55,0.55M-0.55,0.55L0.55,-0.55","M-0.55,-0.55L0.55,0.55M-0.55,0.55L0.55,-0.55M0,-0.75V0.75","M-0.55,0H0.55M0,-0.6V0.6"]},
    "legend": {"orient": "none", "legendX": 492, "legendY": -10, "title": null, "direction": "vertical", "symbolSize": 144, "symbolStrokeWidth": 1.5, "symbolLimit": 40, "labelFont": "Liberation Serif", "labelFontSize": 9.5, "labelExpr": "''", "labelLimit": 300, "padding": 5, "rowPadding": 1.8, "symbolOffset": 7.5, "labelOffset": 17}},
  "fill": {"field": "series", "type": "nominal",
    "scale": {"domain": ["AGR-1: 5-1-3, 1800","AGR-1: 4-4-1, 1800","AGR-1: 4-3-2, 1800","AGR-1: 3-2-3, 1800","AGR-1: 5-1-1, 1700","AGR-1: 4-4-3, 1700","AGR-1: 3-3-1, 1700","AGR-1: 3-3-2, 1600","AGR-1: 4-1-2, 1600","AGR-1: 4-3-3, 1600","AGR-1: 5-3-3, 1600","AGR-1: 6-2-1, 1600","AGR-1: 6-4-1, 1600","AGR-1: 6-4-3, 1600","AGR-1: 3-2-2, 1600","AGR-2: 2-1-2, 1800","AGR-2: 2-3-2, 1800","AGR-2: 5-4-1, 1800","AGR-2: 6-2-1, 1800","AGR-2: 6-4-3, 1800","AGR-2: 2-2-2, 1600","AGR-2: 2-3-1, 1600","AGR-2: 5-2-1, 1600"],
              "range": ["#c0504d","white","#c0504d","white","#f79646","transparent","#f79646","#4f81bd","white","transparent","white","#4f81bd","white","#4f81bd","white","#c0504d","white","#c0504d","white","transparent","transparent","transparent","transparent"]},
    "legend": {"orient": "none", "legendX": 492, "legendY": -10, "title": null, "direction": "vertical", "symbolSize": 144, "symbolStrokeWidth": 1.5, "symbolLimit": 40, "labelFont": "Liberation Serif", "labelFontSize": 9.5, "labelExpr": "''", "labelLimit": 300, "padding": 5, "rowPadding": 1.8, "symbolOffset": 7.5, "labelOffset": 17}},
  "stroke": {"field": "series", "type": "nominal",
    "scale": {"domain": ["AGR-1: 5-1-3, 1800","AGR-1: 4-4-1, 1800","AGR-1: 4-3-2, 1800","AGR-1: 3-2-3, 1800","AGR-1: 5-1-1, 1700","AGR-1: 4-4-3, 1700","AGR-1: 3-3-1, 1700","AGR-1: 3-3-2, 1600","AGR-1: 4-1-2, 1600","AGR-1: 4-3-3, 1600","AGR-1: 5-3-3, 1600","AGR-1: 6-2-1, 1600","AGR-1: 6-4-1, 1600","AGR-1: 6-4-3, 1600","AGR-1: 3-2-2, 1600","AGR-2: 2-1-2, 1800","AGR-2: 2-3-2, 1800","AGR-2: 5-4-1, 1800","AGR-2: 6-2-1, 1800","AGR-2: 6-4-3, 1800","AGR-2: 2-2-2, 1600","AGR-2: 2-3-1, 1600","AGR-2: 5-2-1, 1600"],
              "range": ["#c0504d","#c0504d","#c0504d","#c0504d","#f79646","#f79646","#f79646","#4f81bd","#4f81bd","#4f81bd","#4f81bd","#4f81bd","#4f81bd","#4f81bd","#4f81bd","#c0504d","#c0504d","#c0504d","#c0504d","#c0504d","#4f81bd","#4f81bd","#4f81bd"]},
    "legend": {"orient": "none", "legendX": 492, "legendY": -10, "title": null, "direction": "vertical", "symbolSize": 144, "symbolStrokeWidth": 1.5, "symbolLimit": 40, "labelFont": "Liberation Serif", "labelFontSize": 9.5, "labelExpr": "''", "labelLimit": 300, "padding": 5, "rowPadding": 1.8, "symbolOffset": 7.5, "labelOffset": 17}}
 }
}
]
}
